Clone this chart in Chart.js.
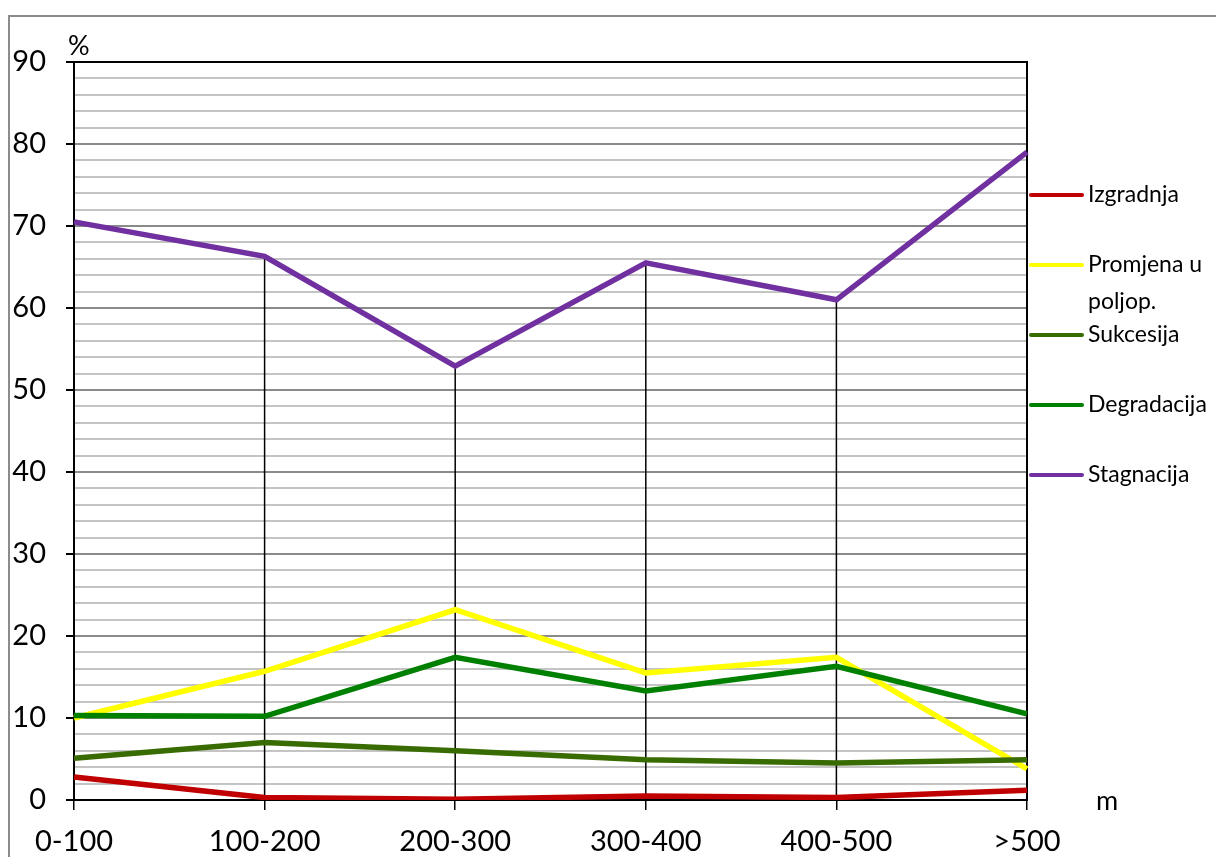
<!DOCTYPE html>
<html>
<head>
<meta charset="utf-8">
<script src="https://cdn.jsdelivr.net/npm/chart.js@4/dist/chart.umd.min.js"></script>
<style>
  html, body { margin: 0; padding: 0; background: #fff; }
  #wrap { position: relative; width: 1216px; height: 857px; }
</style>
</head>
<body>
<div id="wrap"><canvas id="chart"></canvas></div>
<script>
const categories = ['0-100', '100-200', '200-300', '300-400', '400-500', '>500'];

const izgradnja   = [2.8, 0.3, 0.1, 0.5, 0.3, 1.2];
const promjena    = [10.0, 15.7, 23.2, 15.5, 17.4, 3.8];
const sukcesija   = [5.1, 7.0, 6.0, 4.9, 4.5, 4.9];
const degradacija = [10.3, 10.2, 17.4, 13.3, 16.3, 10.5];
const stagnacija  = [70.5, 66.3, 52.9, 65.5, 61.0, 79.0];

const seriesNames  = ['Izgradnja', 'Promjena u poljop.', 'Sukcesija', 'Degradacija', 'Stagnacija'];
const seriesValues = [izgradnja, promjena, sukcesija, degradacija, stagnacija];
const seriesColors = ['#c00000', '#ffff00', '#386b00', '#008000', '#7030a0'];

const FONT = 'Lato, "Open Sans", sans-serif';

// frame, drop lines, unit labels and the legend at the right
const extras = {
    id: 'extras',
    beforeDraw(chart) {
        const ctx = chart.ctx;
        ctx.save();
        ctx.fillStyle = '#fff';
        ctx.fillRect(0, 0, chart.width, chart.height);
        ctx.strokeStyle = '#8c8c8c';
        ctx.lineWidth = 2;
        ctx.strokeRect(9, 16, 1400, 1000);
        ctx.restore();
    },
    beforeDatasetsDraw(chart) {
        const ctx = chart.ctx;
        const area = chart.chartArea;
        const xs = chart.scales.x, ys = chart.scales.y;
        ctx.save();
        ctx.strokeStyle = '#000';
        ctx.lineWidth = 1.5;
        // drop lines from the highest series down to the axis
        categories.forEach((c, i) => {
            const top = Math.max(...seriesValues.map(s => s[i]));
            const x = xs.getPixelForValue(i);
            ctx.beginPath();
            ctx.moveTo(x, ys.getPixelForValue(top));
            ctx.lineTo(x, area.bottom);
            ctx.stroke();
        });
        // plot area border
        ctx.lineWidth = 2;
        ctx.strokeRect(area.left, area.top, area.right - area.left, area.bottom - area.top);
        ctx.restore();
    },
    afterDraw(chart) {
        const ctx = chart.ctx;
        const area = chart.chartArea;
        ctx.save();
        ctx.fillStyle = '#000';
        ctx.font = '27px ' + FONT;
        ctx.textBaseline = 'middle';
        ctx.textAlign = 'left';
        ctx.fillText('%', area.left - 6, area.top - 16);
        ctx.fillText('m', area.right + 69, area.bottom + 1);

        ctx.font = '23px ' + FONT;
        const textX = area.right + 61;
        const maxW = chart.width - textX - 2;
        chart.data.datasets.forEach((ds, i) => {
            const y = 195 + 70 * i;
            ctx.strokeStyle = ds.borderColor;
            ctx.lineWidth = 4;
            ctx.lineCap = 'round';
            ctx.beginPath();
            ctx.moveTo(area.right + 4, y);
            ctx.lineTo(area.right + 55, y);
            ctx.stroke();
            // simple word wrap
            const words = ds.label.split(' ');
            const lines = [];
            let cur = '';
            words.forEach(w => {
                const t = cur ? cur + ' ' + w : w;
                if (cur && ctx.measureText(t).width > maxW) { lines.push(cur); cur = w; }
                else cur = t;
            });
            lines.push(cur);
            lines.forEach((l, k) => ctx.fillText(l, textX, y + k * 37));
        });
        ctx.restore();
    }
};

new Chart(document.getElementById('chart'), {
    type: 'line',
    data: {
        labels: categories,
        datasets: seriesNames.map((name, i) => ({
            label: name,
            data: seriesValues[i],
            borderColor: seriesColors[i],
            backgroundColor: seriesColors[i],
            borderWidth: 5.5,
            pointRadius: 0,
            tension: 0,
            order: seriesNames.length - i
        }))
    },
    options: {
        responsive: true,
        maintainAspectRatio: false,
        animation: false,
        devicePixelRatio: 1,
        layout: { padding: { top: 62, right: 189, bottom: 0, left: 0 } },
        plugins: {
            legend: { display: false },
            tooltip: { enabled: false }
        },
        scales: {
            x: {
                offset: false,
                afterFit(scale) { scale.height = 57; },
                border: { display: true, color: '#000', width: 2 },
                grid: {
                    drawOnChartArea: false,
                    color: '#000',
                    lineWidth: 1.5,
                    tickLength: 10,
                    tickColor: '#000',
                    tickWidth: 1.5
                },
                ticks: {
                    color: '#000',
                    font: { family: FONT, size: 29 },
                    padding: 14,
                    maxRotation: 0,
                    autoSkip: false
                }
            },
            y: {
                min: 0,
                max: 90,
                afterFit(scale) { scale.width = 74; },
                border: { display: true, color: '#000', width: 2 },
                grid: {
                    color: c => c.tick.value % 10 === 0 ? '#8a8a8a' : '#c4c4c4',
                    lineWidth: 2,
                    tickLength: 8,
                    tickColor: c => c.tick.value % 10 === 0 ? '#000' : 'rgba(0,0,0,0)',
                    tickWidth: 2
                },
                ticks: {
                    stepSize: 2,
                    autoSkip: false,
                    color: '#000',
                    padding: 20,
                    font: { family: FONT, size: 29 },
                    callback: v => v % 10 === 0 ? String(v) : ''
                }
            }
        }
    },
    plugins: [extras]
});
</script>
</body>
</html>
